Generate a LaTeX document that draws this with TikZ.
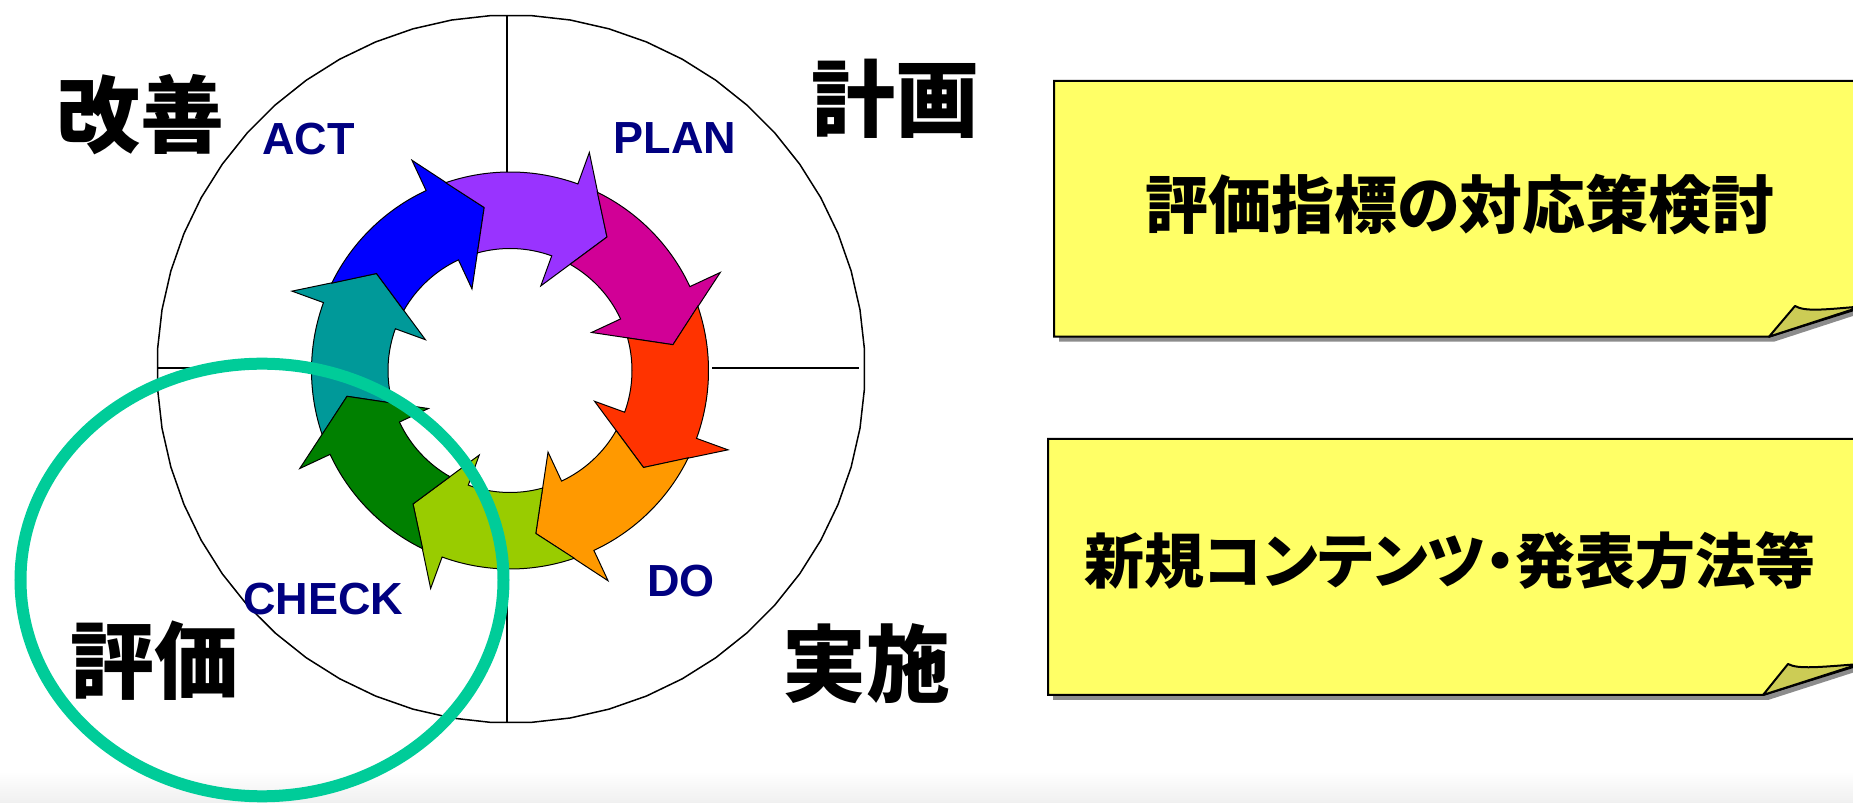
\documentclass[tikz,border=0pt]{standalone}
\usepackage{fontspec}
\setmainfont{Liberation Sans}
\newfontfamily\jp{Noto Sans CJK JP}[RawFeature=+palt]
\definecolor{phasenavy}{HTML}{000080}
\definecolor{arTeal}{HTML}{009999}
\definecolor{arBlue}{HTML}{0000FF}
\definecolor{arPurple}{HTML}{9933FF}
\definecolor{arMagenta}{HTML}{D10096}
\definecolor{arRed}{HTML}{FF3300}
\definecolor{arOrange}{HTML}{FF9900}
\definecolor{arLime}{HTML}{99CC00}
\definecolor{arGreen}{HTML}{008000}
\definecolor{markgreen}{HTML}{00CC99}
\definecolor{noteyellow}{HTML}{FFFF66}
\definecolor{noteflap}{HTML}{CCCC55}
\definecolor{noteshadow}{HTML}{8C8C8C}
\begin{document}
\begin{tikzpicture}[x=1pt,y=1pt,
  thinline/.style={draw=black, line width=1.5pt},
  arrowpart/.style={draw=black, line width=1pt, line join=miter},
  phase/.style={font=\bfseries\fontsize{45}{45}\selectfont, text=phasenavy, inner sep=0pt},
  bigjp/.style={font=\jp\bfseries\fontsize{84}{84}\selectfont, inner sep=0pt},
  notejp/.style={font=\jp\bfseries\fontsize{60}{60}\selectfont, inner sep=0pt},
  notebody/.style={fill=noteyellow, draw=black, line width=2pt, line join=miter},
  noteflapstyle/.style={fill=noteflap, draw=black, line width=2pt, line join=round},
]
\useasboundingbox (0,0) rectangle (1853,803);
\shade[top color=white, bottom color=black!6] (0,0) rectangle (1853,32);

% outer faceted circle
\draw[thinline] plot[samples=57, domain=0:360]
  ({511+354*cos(\x+93.2143)},{434+354*sin(\x+93.2143)}) -- cycle;

% quadrant lines
\draw[thinline] (507,787.5) -- (507,631);
\draw[thinline] (507,234) -- (507,80.6);
\draw[thinline] (712,435) -- (859,435);
\draw[thinline] (157,435) -- (311,435);

% ring of eight curved arrows, each tail notched to take the previous head
\begin{scope}[shift={(510,432.5)}]
\foreach \t/\c in {160/arTeal,115/arBlue,70/arPurple,25/arMagenta,-20/arRed,-65/arOrange,-110/arLime,-155/arGreen}{
  \filldraw[arrowpart, fill=\c]
    ({\t+38.9}:198.5) arc[start angle=\t+38.9, end angle=\t, radius=198.5]
    -- (\t:232) -- ({\t-16}:165) -- (\t:90) -- (\t:122)
    arc[start angle=\t, end angle=\t+35.5, radius=122]
    -- ({\t+29}:165) -- cycle;
}
\end{scope}

% phase labels
\node[phase] (act) at (308.5,664) {ACT};
\node[phase] (plan) at (675,665) {PLAN};
\node[phase] (do) at (681,221.5) {DO};
\node[phase] (check) at (323.5,203.5) {CHECK};

\node[bigjp] (kaizen) at (140,688.5) {改善};
\node[bigjp] (keikaku) at (895.5,704.5) {計画};
\node[bigjp] (hyoka) at (154.5,142) {評価};
\node[bigjp] (jisshi) at (866,139.5) {実施};

% highlight ring around the check phase
\draw[markgreen, line width=12pt] (262,223) ellipse[x radius=241.5, y radius=216.3];

% note 1
\fill[noteshadow] (1059,717) -- (1905,717) -- (1905,504) -- (1774,461.3) -- (1059,461.3) -- cycle;
\filldraw[notebody] (1054,722) -- (1905,722) -- (1905,509) -- (1769,466.3) -- (1054,466.3) -- cycle;
\filldraw[noteflapstyle] (1769,466.3) -- (1795,497) .. controls (1805,491) and (1825,493.5) .. (1862,496.6) -- cycle;
\node[notejp, font=\jp\bfseries\fontsize{63}{63}\selectfont] (note1) at (1460,598.5) {評価指標の対応策検討};

% note 2
\fill[noteshadow] (1053,359) -- (1905,359) -- (1905,147.1) -- (1768,103) -- (1053,103) -- cycle;
\filldraw[notebody] (1048,364) -- (1905,364) -- (1905,152.1) -- (1763,108) -- (1048,108) -- cycle;
\filldraw[noteflapstyle] (1763,108) -- (1788,139) .. controls (1798,133.5) and (1820,136) .. (1859,138.9) -- cycle;
\node[notejp] (note2) at (1450,242) {新規コンテンツ・発表方法等};
\end{tikzpicture}
\end{document}
